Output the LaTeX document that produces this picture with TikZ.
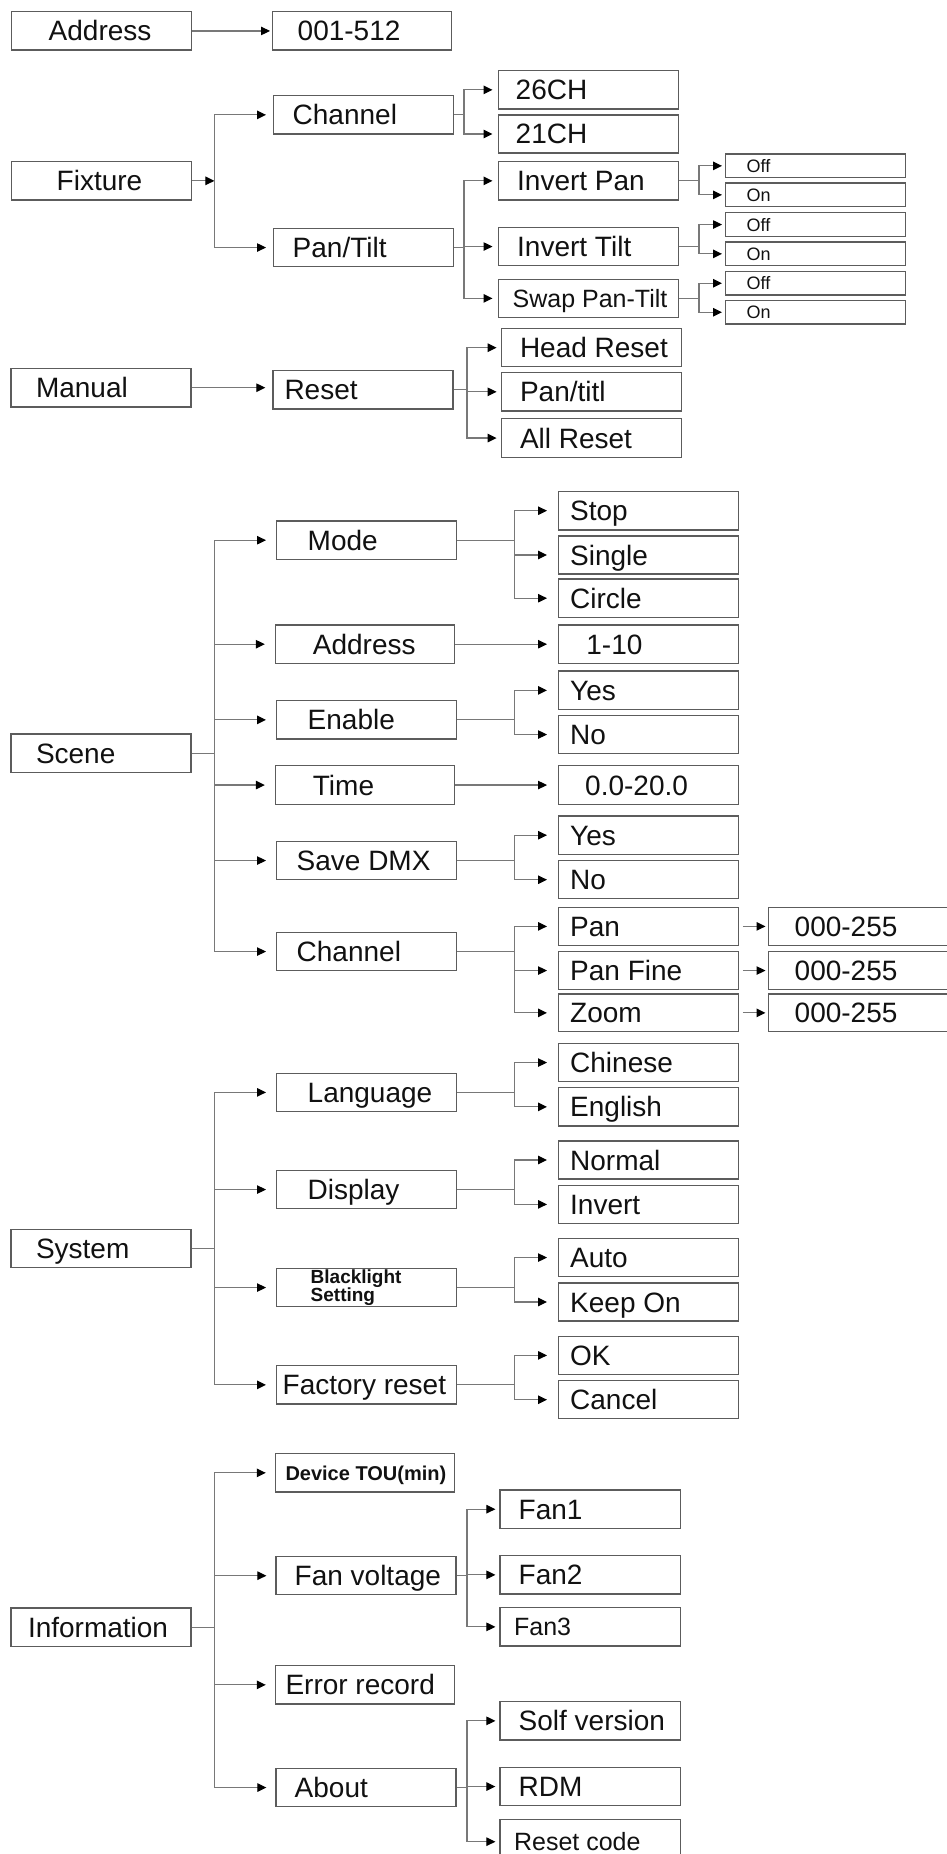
\documentclass[tikz,border=0pt]{standalone}
\usepackage{fontspec}
\setmainfont{Liberation Sans}
\usetikzlibrary{arrows.meta}
\definecolor{boxgray}{HTML}{5C5C5C}
\definecolor{linegray}{HTML}{787878}
\definecolor{txtcol}{HTML}{111111}
\tikzset{
  f28/.style={font=\fontsize{28pt}{30pt}\selectfont, text height=20pt, text depth=0pt},
  f25/.style={font=\fontsize{25pt}{27pt}\selectfont, text height=17.9pt, text depth=0pt},
  f18/.style={font=\fontsize{18pt}{20pt}\selectfont, text height=12.9pt, text depth=0pt},
  fbold/.style={font=\bfseries\fontsize{20pt}{22pt}\selectfont, text height=14.3pt, text depth=0pt},
  box/.style={draw=boxgray, line width=1.4pt, rectangle, anchor=north west, inner ysep=0pt, text=txtcol, f28},
  conn/.style={draw=linegray, line width=1.15pt},
  arr/.style={conn, -{Triangle[length=9pt,width=8.5pt,color=black]}, shorten >=#1},
  arr/.default=5pt
}
\newcommand\bx[8][]{%
  \pgfmathsetmacro\bxtw{#5-2*#7}%
  \node[box,minimum width=#5pt,minimum height=#6pt,inner xsep=#7pt,#1] (#2) at (#3,#4) {\makebox[\bxtw pt][l]{#8}};}
\begin{document}
\begin{tikzpicture}[x=1pt,y=-1pt]
\fill[white] (0,0) rectangle (947,1854);
\useasboundingbox (0,0) rectangle (947,1854);
\coordinate (J1) at (214.4,0);
\coordinate (J2) at (464,0);
\coordinate (J3) at (699,0);
\coordinate (J4) at (514.5,0);
\coordinate (J5) at (467,0);
% ---------- Address
\bx{Address}{11}{11}{180}{38.5}{37}{Address}
\bx{A512}{272}{11}{179}{38.5}{25}{001-512}
% ---------- Fixture
\bx{Fixture}{11}{161}{180}{38.3}{45}{Fixture}
\bx{Channel}{273}{95}{180}{38.3}{19}{Channel}
\bx{CHa}{498}{70}{180}{38.3}{17}{26CH}
\bx{CHb}{498}{114.3}{180}{38}{17}{21CH}
\bx{PanTilt}{273}{227.7}{180}{38.3}{19}{Pan/Tilt}
\bx{InvPan}{498}{161}{180}{38.3}{18.5}{Invert Pan}
\bx{InvTilt}{498}{226.7}{180}{38.3}{18.5}{Invert Tilt}
\bx[f25]{Swap}{498}{278.7}{180}{38}{14}{Swap Pan-Tilt}
\bx[f18]{OffA}{725}{153.3}{180}{23.7}{21}{Off}
\bx[f18]{OnA}{725}{182.3}{180}{23.7}{21}{On}
\bx[f18]{OffB}{725}{212}{180}{23.7}{21}{Off}
\bx[f18]{OnB}{725}{241.3}{180}{23.7}{21}{On}
\bx[f18]{OffC}{725}{270.7}{180}{23.7}{21}{Off}
\bx[f18]{OnC}{725}{299.7}{180}{23.7}{21}{On}
% ---------- Manual
\bx{Manual}{10.3}{367.7}{180}{38.6}{25}{Manual}
\bx{Reset}{272.3}{370}{180}{38.3}{11.5}{Reset}
\bx{HeadReset}{500.6}{328}{180}{38}{18.7}{Head Reset}
\bx{PanTitl}{500.6}{372}{180}{38.3}{18.7}{Pan/titl}
\bx{AllReset}{500.6}{418}{180}{38.7}{18.7}{All Reset}
% ---------- Scene
\bx{Scene}{10.3}{733.3}{180}{38.4}{25}{Scene}
\bx{Mode}{276}{520.3}{180}{38.4}{31}{Mode}
\bx{Stop}{558}{490.7}{180}{38.6}{11.5}{Stop}
\bx{Single}{558}{535.3}{180}{38}{11.5}{Single}
\bx{Circle}{558}{578.3}{180}{38.4}{11.5}{Circle}
\bx{ScAddr}{274.8}{624.3}{179}{38.4}{37.4}{Address}
\bx{Ten}{558}{624.3}{180}{38.4}{27.7}{1-10}
\bx{Enable}{276}{700}{180}{38.3}{31}{Enable}
\bx{YesA}{558}{670.3}{180}{38.7}{11.5}{Yes}
\bx{NoA}{558}{714.7}{180}{38.3}{11.5}{No}
\bx{Time}{274.8}{765}{179}{38.7}{37.4}{Time}
\bx{Twenty}{558}{765}{180}{38.7}{26.5}{0.0-20.0}
\bx{SaveDMX}{276}{840.7}{180}{38.3}{20}{Save DMX}
\bx{YesB}{558}{815.3}{180}{38.4}{11.5}{Yes}
\bx{NoB}{558}{860}{180}{38}{11.5}{No}
\bx{ScChan}{276}{931.7}{180}{38.3}{20}{Channel}
\bx{Pan}{558}{906.7}{180}{38}{11.5}{Pan}
\bx{PanFine}{558}{950.7}{180}{38.3}{11.5}{Pan Fine}
\bx{Zoom}{558}{993.3}{180}{37.7}{11.5}{Zoom}
\bx{VA}{768}{906.7}{182}{38}{26}{000-255}
\bx{VB}{768}{950.7}{182}{38.3}{26}{000-255}
\bx{VC}{768}{993.3}{182}{37.7}{26}{000-255}
% ---------- System
\bx{System}{10.3}{1229}{180}{38}{25}{System}
\bx{Language}{276}{1072.7}{180}{38}{31}{Language}
\bx{Chinese}{558}{1042.7}{180}{38.3}{11.5}{Chinese}
\bx{English}{558}{1087}{180}{38.3}{11.5}{English}
\bx{Display}{276}{1169.7}{180}{38.3}{31}{Display}
\bx{Normal}{558}{1140.3}{180}{38}{11.5}{Normal}
\bx{Invert}{558}{1184.7}{180}{38}{11.5}{Invert}
\node[box, minimum width=180pt, minimum height=38.3pt, inner xsep=34pt, text width=112pt, align=left,
      font=\bfseries\fontsize{19pt}{14.5pt}\selectfont, text height=, text depth=] (Black) at (276,1267.7) {Blacklight\\Setting};
\bx{Auto}{558}{1237.7}{180}{38.3}{11.5}{Auto}
\bx{KeepOn}{558}{1282.3}{180}{38}{11.5}{Keep On}
\bx{Factory}{276}{1365}{180}{38.3}{6}{Factory reset}
\bx{OK}{558}{1335.7}{180}{38}{11.5}{OK}
\bx{Cancel}{558}{1380}{180}{38}{11.5}{Cancel}
% ---------- Information
\bx{Info}{10.3}{1607.3}{180}{38.7}{17}{Information}
\bx[fbold]{DevTOU}{274.8}{1453}{179}{38.3}{10}{Device TOU(min)}
\bx{FanV}{275.4}{1556}{180}{38}{18.6}{Fan voltage}
\bx{Fan1}{499.4}{1489.3}{180.6}{38.4}{18.6}{Fan1}
\bx{Fan2}{499.4}{1555}{180.6}{38.3}{18.6}{Fan2}
\bx[f25]{Fan3}{499.4}{1607}{180.6}{38.3}{14}{Fan3}
\bx{ErrRec}{274.8}{1665}{179}{38.3}{10}{Error record}
\bx{About}{275.4}{1767.7}{180}{38.3}{18.6}{About}
\bx{Solf}{499.4}{1701}{180.6}{38.3}{18.6}{Solf version}
\bx{RDM}{499.4}{1766.7}{180.6}{38.3}{18.6}{RDM}
\bx[f25]{ResetCode}{499.4}{1819}{180.6}{44}{14}{Reset code}
% ================= connectors
\draw[arr=2pt] (Address) -- (A512);
% Fixture
\draw[arr=0pt] (Fixture) -- (Fixture -| J1);
\draw[arr=7pt] (Fixture -| J1) |- (Channel);
\draw[arr=7pt] (Fixture -| J1) |- (PanTilt);
\draw[arr=5.5pt] (Channel) -- (Channel -| J2) |- (CHa);
\draw[arr=5.5pt] (Channel -| J2) |- (CHb);
\draw[arr=5.5pt] (PanTilt) -- (PanTilt -| J2) |- (InvPan);
\draw[arr=5.5pt] (PanTilt -| J2) |- (InvTilt);
\draw[arr=5.5pt] (PanTilt -| J2) |- (Swap);
\draw[arr=3pt] (InvPan) -- (InvPan -| J3) |- (OffA);
\draw[arr=3pt] (InvPan -| J3) |- (OnA);
\draw[arr=3pt] (InvTilt) -- (InvTilt -| J3) |- (OffB);
\draw[arr=3pt] (InvTilt -| J3) |- (OnB);
\draw[arr=3pt] (Swap) -- (Swap -| J3) |- (OffC);
\draw[arr=3pt] (Swap -| J3) |- (OnC);
% Manual
\draw[arr=7pt] (Manual) -- (Manual -| Reset.west);
\draw[arr=4pt] (Reset) -- (Reset -| J5) |- (HeadReset);
\draw[arr=4pt] (Reset -| J5) |- (PanTitl);
\draw[arr=4pt] (Reset -| J5) |- (AllReset);
% Scene
\draw[conn] (Scene) -- (Scene -| J1);
\foreach \n in {Mode,ScAddr,Enable,Time,SaveDMX,ScChan}
  \draw[arr=10pt] (Scene -| J1) |- (\n);
\draw[arr=11pt] (Mode) -- (Mode -| J4) |- (Stop);
\draw[arr=11pt] (Mode -| J4) |- (Single);
\draw[arr=11pt] (Mode -| J4) |- (Circle);
\draw[arr=11pt] (ScAddr) -- (Ten);
\draw[arr=11pt] (Enable) -- (Enable -| J4) |- (YesA);
\draw[arr=11pt] (Enable -| J4) |- (NoA);
\draw[arr=11pt] (Time) -- (Twenty);
\draw[arr=11pt] (SaveDMX) -- (SaveDMX -| J4) |- (YesB);
\draw[arr=11pt] (SaveDMX -| J4) |- (NoB);
\draw[arr=11pt] (ScChan) -- (ScChan -| J4) |- (Pan);
\draw[arr=11pt] (ScChan -| J4) |- (PanFine);
\draw[arr=11pt] (ScChan -| J4) |- (Zoom);
\draw[arr=2.5pt, shorten <=3.5pt] (Pan) -- (VA);
\draw[arr=2.5pt, shorten <=3.5pt] (PanFine) -- (VB);
\draw[arr=2.5pt, shorten <=3.5pt] (Zoom) -- (VC);
% System
\draw[conn] (System) -- (System -| J1);
\foreach \n in {Language,Display,Black,Factory}
  \draw[arr=10pt] (System -| J1) |- (\n);
\draw[arr=11pt] (Language) -- (Language -| J4) |- (Chinese);
\draw[arr=11pt] (Language -| J4) |- (English);
\draw[arr=11pt] (Display) -- (Display -| J4) |- (Normal);
\draw[arr=11pt] (Display -| J4) |- (Invert);
\draw[arr=11pt] (Black) -- (Black -| J4) |- (Auto);
\draw[arr=11pt] (Black -| J4) |- (KeepOn);
\draw[arr=11pt] (Factory) -- (Factory -| J4) |- (OK);
\draw[arr=11pt] (Factory -| J4) |- (Cancel);
% Information
\draw[conn] (Info) -- (Info -| J1);
\foreach \n in {DevTOU,FanV,ErrRec,About}
  \draw[arr=9pt] (Info -| J1) |- (\n);
\draw[arr=4pt] (FanV) -- (FanV -| J5) |- (Fan1);
\draw[arr=4pt] (FanV -| J5) |- (Fan2);
\draw[arr=4pt] (FanV -| J5) |- (Fan3);
\draw[arr=4pt] (About) -- (About -| J5) |- (Solf);
\draw[arr=4pt] (About -| J5) |- (RDM);
\draw[arr=4pt] (About -| J5) |- (ResetCode);
\end{tikzpicture}
\end{document}
